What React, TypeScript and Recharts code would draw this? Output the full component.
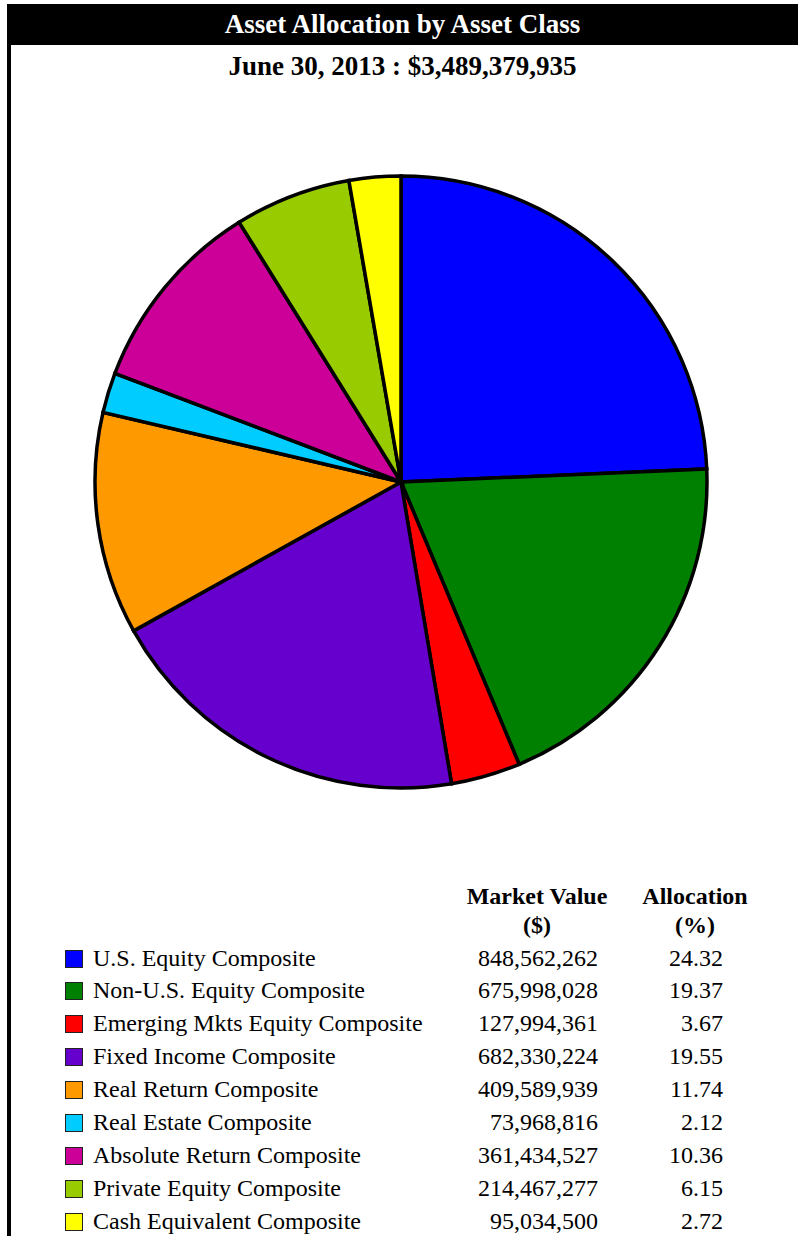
import React from 'react';
import { PieChart, Pie, Cell } from 'recharts';

const categories = [
  'U.S. Equity Composite',
  'Non-U.S. Equity Composite',
  'Emerging Mkts Equity Composite',
  'Fixed Income Composite',
  'Real Return Composite',
  'Real Estate Composite',
  'Absolute Return Composite',
  'Private Equity Composite',
  'Cash Equivalent Composite',
];
const marketValues = [848562262, 675998028, 127994361, 682330224, 409589939, 73968816, 361434527, 214467277, 95034500];
const allocations = [24.32, 19.37, 3.67, 19.55, 11.74, 2.12, 10.36, 6.15, 2.72];
const colors = ['#0000FF', '#008000', '#FF0000', '#6600CC', '#FF9900', '#00CCFF', '#CC0099', '#99CC00', '#FFFF00'];
const title = 'Asset Allocation by Asset Class';
const subtitle = 'June 30, 2013 : $3,489,379,935';

const data = categories.map((name, i) => ({ name, value: marketValues[i] }));

const fmt = (n: number) => n.toLocaleString('en-US');

export default function App() {
  const font = '"Liberation Serif", "Times New Roman", Times, serif';
  const rowTop = 941.5;
  const rowH = 32.9;
  return (
    <div style={{ position: 'absolute', left: 0, top: 0, width: 798, height: 1236, background: '#fff', fontFamily: font, overflow: 'hidden' }}>
      <div style={{ position: 'absolute', left: 7, top: 4, width: 4, height: 1232, background: '#000' }} />
      <div style={{ position: 'absolute', left: 7, top: 4, width: 791, height: 41, background: '#000', color: '#fff', fontWeight: 'bold', fontSize: 27, lineHeight: '41px', textAlign: 'center' }}>{title}</div>
      <div style={{ position: 'absolute', left: 7, top: 50, width: 791, height: 32, color: '#000', fontWeight: 'bold', fontSize: 27, lineHeight: '32px', textAlign: 'center' }}>{subtitle}</div>
      <div style={{ position: 'absolute', left: 0, top: 0 }}>
        <PieChart width={798} height={860} margin={{ top: 0, right: 0, bottom: 0, left: 0 }}>
          <Pie
            data={data}
            dataKey="value"
            nameKey="name"
            cx={401}
            cy={482}
            outerRadius={306}
            startAngle={90}
            endAngle={-270}
            stroke="#000"
            strokeWidth={3.5}
            isAnimationActive={false}
            label={false}
            labelLine={false}
          >
            {data.map((d, i) => (
              <Cell key={d.name} fill={colors[i]} stroke="#000" strokeWidth={3.5} />
            ))}
          </Pie>
        </PieChart>
      </div>
      <div style={{ position: 'absolute', left: 437, top: 882, width: 200, textAlign: 'center', fontWeight: 'bold', fontSize: 24, lineHeight: '29px' }}>
        Market Value<br />($)
      </div>
      <div style={{ position: 'absolute', left: 595, top: 882, width: 200, textAlign: 'center', fontWeight: 'bold', fontSize: 24, lineHeight: '29px' }}>
        Allocation<br />(%)
      </div>
      {categories.map((c, i) => {
        const top = rowTop + i * rowH;
        return (
          <React.Fragment key={c}>
            <div style={{ position: 'absolute', left: 65, top: top + 8, width: 16, height: 16, background: colors[i], border: '1px solid #222' }} />
            <div style={{ position: 'absolute', left: 93, top, height: 33, lineHeight: '33px', fontSize: 24, whiteSpace: 'nowrap' }}>{c}</div>
            <div style={{ position: 'absolute', left: 398, top, width: 200, height: 33, lineHeight: '33px', fontSize: 24, textAlign: 'right' }}>{fmt(marketValues[i])}</div>
            <div style={{ position: 'absolute', left: 523, top, width: 200, height: 33, lineHeight: '33px', fontSize: 24, textAlign: 'right' }}>{allocations[i].toFixed(2)}</div>
          </React.Fragment>
        );
      })}
    </div>
  );
}
